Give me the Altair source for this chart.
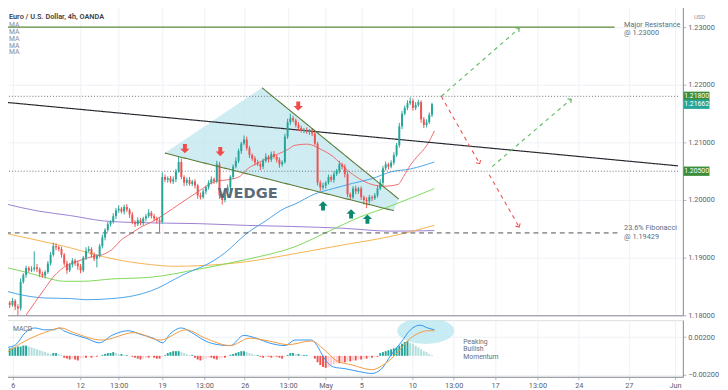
import altair as alt
import pandas as pd

# ---------------- data ----------------
# 4h candles (index 0 = first visible bar); closes in price, wicks in pips
closes = [1.1822, 1.1818, 1.1825, 1.1815, 1.1812, 1.1858, 1.1870, 1.1882, 1.1878, 1.1880,
          1.1883, 1.1880, 1.1872, 1.1869, 1.1875, 1.1890, 1.1905, 1.1920, 1.1918, 1.1915,
          1.1905, 1.1890, 1.1878, 1.1888, 1.1895, 1.1890, 1.1885, 1.1878, 1.1900, 1.1912,
          1.1915, 1.1905, 1.1898, 1.1903, 1.1920, 1.1935, 1.1948, 1.1958, 1.1962, 1.1972,
          1.1982, 1.1985, 1.1980, 1.1988, 1.1983, 1.1975, 1.1962, 1.1958, 1.1965, 1.1960,
          1.1968, 1.1972, 1.1978, 1.1972, 1.1968, 1.1965, 1.1962, 1.2040, 1.2035, 1.2038,
          1.2032, 1.2036, 1.2050, 1.2066, 1.2040, 1.2030, 1.2035, 1.2028, 1.2032, 1.2025,
          1.2008, 1.2005, 1.2015, 1.2022, 1.2030, 1.2036, 1.2033, 1.2062, 1.2008, 1.2000,
          1.2015, 1.2022, 1.2040, 1.2058, 1.2068, 1.2085, 1.2098, 1.2105, 1.2090, 1.2078,
          1.2072, 1.2065, 1.2062, 1.2058, 1.2068, 1.2075, 1.2070, 1.2080, 1.2075, 1.2070,
          1.2062, 1.2066, 1.2110, 1.2135, 1.2142, 1.2138, 1.2130, 1.2125, 1.2120, 1.2122,
          1.2118, 1.2120, 1.2115, 1.2098, 1.2030, 1.2022, 1.2025, 1.2030, 1.2040, 1.2035,
          1.2045, 1.2050, 1.2062, 1.2058, 1.2045, 1.2010, 1.2005, 1.2020, 1.2015, 1.2020,
          1.2005, 1.2000, 1.1998, 1.2005, 1.2003, 1.2008, 1.2020, 1.2030, 1.2055, 1.2062,
          1.2058, 1.2065, 1.2078, 1.2095, 1.2128, 1.2150, 1.2160, 1.2168, 1.2172, 1.2160,
          1.2165, 1.2170, 1.2140, 1.2130, 1.2135, 1.2148, 1.2166]
first_open = 1.1826
wick_up = [4, 3, 5, 3, 4, 6, 3, 4, 3, 5, 28, 6, 3, 4, 3, 4, 5, 6, 5, 3,
           4, 3, 5, 3, 4, 3, 5, 4, 3, 6, 5, 3, 4, 3, 4, 5, 3, 4, 3, 5,
           4, 6, 3, 4, 5, 3, 4, 3, 5, 4, 3, 4, 6, 3, 4, 3, 5, 8, 4, 3,
           4, 5, 4, 9, 6, 3, 4, 5, 3, 4, 3, 5, 4, 3, 4, 5, 3, 6, 4, 3,
           4, 5, 3, 4, 6, 4, 3, 7, 5, 4, 3, 4, 5, 3, 4, 6, 3, 4, 5, 3,
           4, 3, 5, 6, 8, 4, 3, 5, 4, 3, 4, 3, 5, 4, 3, 4, 5, 3, 4, 3,
           5, 4, 6, 3, 4, 5, 3, 4, 5, 3, 4, 3, 5, 4, 3, 4, 5, 6, 4, 5,
           3, 4, 5, 4, 6, 5, 4, 5, 6, 4, 5, 4, 3, 4, 5, 4, 3]
wick_dn = [4, 5, 3, 6, 12, 4, 3, 5, 4, 3, 4, 5, 6, 4, 5, 3, 4, 3, 5, 4,
           5, 4, 6, 3, 5, 4, 6, 5, 3, 4, 3, 5, 4, 15, 3, 4, 5, 3, 4, 3,
           5, 4, 3, 5, 4, 6, 4, 5, 3, 4, 4, 5, 3, 4, 5, 6, 18, 3, 4, 5,
           3, 4, 5, 3, 4, 6, 5, 3, 4, 5, 6, 4, 3, 5, 4, 3, 5, 4, 6, 8,
           4, 3, 5, 4, 3, 4, 5, 3, 4, 5, 4, 5, 3, 6, 4, 3, 5, 4, 3, 5,
           6, 4, 3, 4, 5, 3, 4, 5, 3, 4, 3, 5, 4, 3, 5, 6, 4, 5, 3, 4,
           5, 3, 4, 5, 6, 5, 4, 3, 5, 4, 5, 8, 12, 4, 5, 3, 4, 3, 5, 4,
           5, 3, 4, 3, 4, 5, 3, 4, 3, 5, 4, 3, 6, 5, 4, 3, 4]

# moving averages (sample points: bar index, price)
ma_red_i = [6.7, 13.8, 17.3, 20.8, 24.4, 27.9, 31.4, 35.0, 38.5, 42.0, 45.6, 49.1, 52.7, 58.0, 63.3,
            70.3, 76.3, 82.0, 85.5, 88.0, 91.5, 95.0, 99.6, 103.2, 105.7, 110.2, 115.2, 119.8, 124.4,
            129.3, 133.9, 138.5, 143.5, 145.6, 148.1, 150.5, 154.1, 156.9]
ma_red_p = [1.1798, 1.1846, 1.1868, 1.1883, 1.1891, 1.1897, 1.1902, 1.1905, 1.1914, 1.1931, 1.1942,
            1.1953, 1.1961, 1.1976, 1.1993, 1.2015, 1.2032, 1.2036, 1.2041, 1.2053, 1.2063, 1.2071,
            1.2080, 1.2088, 1.2095, 1.2097, 1.2088, 1.2075, 1.2054, 1.2037, 1.2027, 1.2024, 1.2027,
            1.2041, 1.2061, 1.2075, 1.2095, 1.2120]
ma_blue_i = [-0.35, 6.7, 13.8, 23.3, 29.0, 38.5, 46.6, 52.7, 65.0, 76.3, 79.9, 88.0, 95.0, 102.1,
             105.7, 112.7, 119.8, 126.9, 133.9, 141.0, 148.1, 156.9]
ma_blue_p = [1.1842, 1.1834, 1.1830, 1.1829, 1.1827, 1.1829, 1.1834, 1.1842, 1.1871, 1.1896, 1.1908,
             1.1942, 1.1964, 1.1986, 1.1993, 1.2010, 1.2020, 1.2029, 1.2037, 1.2049, 1.2054, 1.2066]
ma_green_i = [-0.35, 6.7, 13.8, 20.8, 27.9, 38.5, 52.7, 70.3, 88.0, 105.7, 117.3, 129.3, 141.0, 156.9]
ma_green_p = [1.1883, 1.1875, 1.1866, 1.1859, 1.1859, 1.1863, 1.1866, 1.1880, 1.1897, 1.1919, 1.1944,
              1.1970, 1.1990, 1.2020]
ma_orange_i = [-0.35, 11.3, 23.3, 35.0, 44.5, 52.7, 61.5, 70.3, 88.0, 105.7, 123.3, 141.0, 156.9]
ma_orange_p = [1.1942, 1.1930, 1.1917, 1.1902, 1.1893, 1.1888, 1.1885, 1.1886, 1.1893, 1.1907, 1.1922,
               1.1937, 1.1956]
ma_purple_i = [-0.35, 11.3, 23.3, 35.0, 46.6, 70.3, 88.0, 105.7, 123.3, 141.0, 156.9]
ma_purple_p = [1.1993, 1.1981, 1.1973, 1.1964, 1.1961, 1.1959, 1.1956, 1.1954, 1.1951, 1.1946, 1.1947]

# MACD (values in 1e-4)
macd_i = [0, 3.2, 6.7, 10.2, 13.8, 17.3, 19.1, 20.8, 24.4, 29.0, 33.9, 38.5, 44.5, 49.1, 53.7, 57.2,
          59.7, 64.0, 67.8, 72.8, 77.4, 82.0, 86.9, 91.5, 96.1, 102.1, 105.7, 111.7, 113.8, 116.3,
          119.8, 124.4, 129.3, 133.9, 137.5, 141.0, 144.5, 148.1, 151.6, 154.4, 156.9]
macd_v = [9, 12, 25, 30, 28, 28, 30, 27, 23, 19, 14, 22, 27, 23, 19, 14, 23, 30, 25, 16, 12, 11, 22,
          19, 14, 11, 17, 17, 11, -2, -12, -14, -17, -19, -14, 1, 14, 28, 33, 30, 28]
sig_i = [0, 6.7, 13.8, 19.8, 24.4, 35.0, 46.6, 56.2, 65.7, 72.8, 82.0, 89.0, 96.1, 103.2, 111.7,
         116.3, 120.8, 126.9, 133.9, 138.5, 143.5, 147.0, 151.6, 154.4, 156.9]
sig_v = [4, 16, 25, 30, 25, 17, 25, 17, 28, 19, 11, 19, 16, 12, 16, 7, -5, -10, -15, -9, 4, 16, 25,
         27, 27]
hist = [7, 8, 9, 9, 10, 10, 11, 11, 10, 9, 8, 7, 6, 5, 4, 3, 2, 3, 3, 2, 1,
        -2, -3, -4, -3, -4, -5, -3, -2, -2, -1, -2, -1, -1, 0, 1, 2, 3, 3, 4, 3,
        2, 2, 1, 1, 0, -1, -2, -3, -4, -3, -2, -2, -1, -2, -3, -3, -1, 1,
        3, 4, 5, 5, 5, 4, 3, 2, 1, 1, -2, -4, -5, -4, -3, -2, -2, -3, -4,
        -3, -2, -2, -1, 1, 2, 3, 4, 5, 5, 4, 3, 2, 1, 1, -1, -2, -1, -1, -2, -1, -1, -2, -3,
        -1, 1, 3, 3, 2, 2, 1, 1, 1, 0, 0, -3, -7, -10, -12, -13, -12, -10,
        -9, -8, -8, -7, -7, -6, -6, -5, -5, -4, -4, -3, -3, -2, -2, -1, -1,
        3, 4, 5, 6, 7, 8, 9, 11, 13, 15, 16, 14, 13, 11, 9, 7, 5, 4, 2, 1]

# time axis
tick_pos = [2.12, 26.86, 40.99, 56.89, 72.44, 87.28, 103.18, 116.96, 130.04, 148.76, 163.96,
            179.15, 194.70, 209.89, 228.27, 245.23]
tick_lab = ["6", "12", "13:00", "19", "13:00", "26", "13:00", "May", "5", "10", "13:00", "17",
            "13:00", "24", "27", "Jun"]
price_ticks = [1.18, 1.185, 1.19, 1.195, 1.20, 1.205, 1.21, 1.215, 1.22, 1.225, 1.23]

# levels / drawings
major_res = 1.23
fib_level = 1.19429
res_1218 = 1.218
sup_1205 = 1.205
last_price = 1.21662
trend_x = [-0.35, 246.3]
trend_p = [1.21695, 1.20593]
wedge_x = [57.95, 93.6, 142.0, 143.8]
wedge_top = [1.20814, 1.21949, 1.20086, 1.20017]
wedge_bot = [1.20814, 1.20390, 1.19814, 1.20017]
wedge_low_line = [(57.95, 1.20814), (142.0, 1.19814)]
wedge_up_line = [(93.6, 1.21949), (143.8, 1.20017)]
red_arrow_i = [65.3, 78.3, 106.9]
red_arrow_p = [1.2089, 1.2084, 1.2163]
green_arrow_i = [116.0, 126.3, 132.3]
green_arrow_p = [1.1990, 1.1976, 1.1967]
proj_x0 = [159.4, 159.4, 178.1, 177.0]
proj_y0 = [1.2180, 1.2180, 1.2058, 1.2044]
proj_x1 = [188.0, 173.5, 207.1, 188.0]
proj_y1 = [1.2298, 1.2063, 1.2175, 1.1953]
proj_kind = ["g", "r", "g", "r"]
proj_angle = [229, 329, 230, 330]

# ---------------- build tables ----------------
X0, X1 = -0.35, 246.3
W, H1, H2 = 698, 317, 58
FONT = "Roboto"
AXC = "#5d606b"
GRID = "#eef1f6"

opens = [first_open] + closes[:-1]
cdf = pd.DataFrame({
    "i": list(range(len(closes))),
    "open": opens,
    "close": closes,
    "high": [max(o, c) + u * 1e-4 for o, c, u in zip(opens, closes, wick_up)],
    "low": [min(o, c) - d * 1e-4 for o, c, d in zip(opens, closes, wick_dn)],
})
cdf["dir"] = ["up" if c >= o else "down" for o, c in zip(cdf["open"], cdf["close"])]

xs = alt.Scale(domain=[X0, X1], nice=False, zero=False)
ys = alt.Scale(domain=[1.18, 1.23373], nice=False, zero=False)
cscale = alt.Scale(domain=["up", "down"], range=["#26a69a", "#ef5350"])

x_price = alt.X("i:Q", scale=xs, axis=alt.Axis(values=tick_pos, labels=False, ticks=False,
                                                domain=True, domainColor="#8a8d96", grid=True,
                                                gridColor=GRID, title=None))
y_price_axis = alt.Axis(values=price_ticks, format=".5f", orient="right", title=None,
                        labelFontSize=7.5, labelColor=AXC, tickSize=3, tickColor="#b2b5be",
                        domain=True, domainColor="#8a8d96", grid=True, gridColor=GRID,
                        labelFont=FONT)

base = alt.Chart(cdf)
grid_layer = base.mark_point(opacity=0).encode(
    x=x_price, y=alt.Y("close:Q", scale=ys, axis=y_price_axis))

# wedge fill
wdf = pd.DataFrame({"i": wedge_x, "top": wedge_top, "bot": wedge_bot})
wedge_fill = alt.Chart(wdf).mark_area(color="#bfe6ee", opacity=0.75).encode(
    x=alt.X("i:Q", scale=xs), y=alt.Y("top:Q", scale=ys), y2="bot:Q")

# moving averages
def ma_line(ii, pp, color):
    d = pd.DataFrame({"i": ii, "p": pp})
    return alt.Chart(d).mark_line(strokeWidth=1, interpolate="monotone", clip=True,
                                  color=color).encode(
        x=alt.X("i:Q", scale=xs), y=alt.Y("p:Q", scale=ys))

ma_layers = [ma_line(ma_purple_i, ma_purple_p, "#9a7fd1"),
             ma_line(ma_orange_i, ma_orange_p, "#f7b24d"),
             ma_line(ma_green_i, ma_green_p, "#7ed957"),
             ma_line(ma_blue_i, ma_blue_p, "#4aa3e8"),
             ma_line(ma_red_i, ma_red_p, "#ef6c6c")]

# horizontal levels
def hline(level, x0, x1, color, dash, width=1.0):
    d = pd.DataFrame({"a": [x0], "b": [x1], "p": [level]})
    return alt.Chart(d).mark_rule(color=color, strokeDash=dash, strokeWidth=width).encode(
        x=alt.X("a:Q", scale=xs), x2="b:Q", y=alt.Y("p:Q", scale=ys))

res_line = hline(major_res, X0, 223.0, "#5f8a3c", [1, 0], 1.1)
fib_line = hline(fib_level, X0, 224.4, "#4a4d55", [5, 4], 1.0)
dot1 = hline(res_1218, X0, X1, "#6b6e76", [1, 2], 1.0)
dot2 = hline(sup_1205, X0, X1, "#6b6e76", [1, 2], 1.0)

def seg_chart(x0, y0, x1, y1, color, width=1.0, dash=(1, 0)):
    d = pd.DataFrame({"a": x0, "b": x1, "p": y0, "q": y1})
    return alt.Chart(d).mark_rule(color=color, strokeWidth=width, strokeDash=list(dash)).encode(
        x=alt.X("a:Q", scale=xs), x2="b:Q", y=alt.Y("p:Q", scale=ys), y2="q:Q")

trend = seg_chart([trend_x[0]], [trend_p[0]], [trend_x[1]], [trend_p[1]], "#26282e", 1.2)
wl = seg_chart([wedge_low_line[0][0], wedge_up_line[0][0]], [wedge_low_line[0][1], wedge_up_line[0][1]],
               [wedge_low_line[1][0], wedge_up_line[1][0]], [wedge_low_line[1][1], wedge_up_line[1][1]],
               "#5a7a34", 1.1)

# candles
wicks = base.mark_rule(strokeWidth=1).encode(
    x=alt.X("i:Q", scale=xs), y=alt.Y("low:Q", scale=ys), y2="high:Q",
    color=alt.Color("dir:N", scale=cscale, legend=None))
bodies = base.mark_bar(width=2.0).encode(
    x=alt.X("i:Q", scale=xs), y=alt.Y("open:Q", scale=ys), y2="close:Q",
    color=alt.Color("dir:N", scale=cscale, legend=None))

# projection dashed arrows
pdf = pd.DataFrame({"a": proj_x0, "b": proj_x1, "p": proj_y0, "q": proj_y1,
                    "k": proj_kind, "ang": proj_angle})
proj_layers = []
for kind, col in [("g", "#5cb85c"), ("r", "#ef5350")]:
    sub = pdf[pdf["k"] == kind]
    proj_layers.append(alt.Chart(sub).mark_rule(strokeWidth=1.1, strokeDash=[4, 4], color=col).encode(
        x=alt.X("a:Q", scale=xs), x2="b:Q", y=alt.Y("p:Q", scale=ys), y2="q:Q"))
    proj_layers.append(alt.Chart(sub).mark_point(
        shape="M -1 -1 L 0 0 L 1 -1", filled=False, strokeWidth=1.1, size=30, opacity=1,
        color=col).encode(
        x=alt.X("b:Q", scale=xs), y=alt.Y("q:Q", scale=ys),
        angle=alt.Angle("ang:Q", scale=None)))

# block arrows
ARROW = "M -0.42 -1 L 0.42 -1 L 0.42 0 L 1 0 L 0 1 L -1 0 L -0.42 0 Z"
red_arr = alt.Chart(pd.DataFrame({"i": red_arrow_i, "p": red_arrow_p})).mark_point(
    shape=ARROW, filled=True, size=90, opacity=1, color="#ef4b4b").encode(
    x=alt.X("i:Q", scale=xs), y=alt.Y("p:Q", scale=ys))
green_arr = alt.Chart(pd.DataFrame({"i": green_arrow_i, "p": green_arrow_p})).mark_point(
    shape=ARROW, filled=True, size=90, opacity=1, color="#0b8a6f", angle=180).encode(
    x=alt.X("i:Q", scale=xs), y=alt.Y("p:Q", scale=ys))

# texts
wedge_txt = alt.Chart(pd.DataFrame({"i": [88.3], "p": [1.2012], "t": ["WEDGE"]})).mark_text(
    font="DejaVu Sans", fontSize=15, fontWeight="bold", color="#5d6b79").encode(
    x=alt.X("i:Q", scale=xs), y=alt.Y("p:Q", scale=ys), text="t:N")
lab_df = pd.DataFrame({"i": [226.5, 226.5, 226.5, 226.5],
                       "p": [1.2304, 1.2289, 1.1951, 1.1936],
                       "t": ["Major Resistance", "@ 1.23000", "23.6% Fibonacci", "@ 1.19429"]})
level_txt = alt.Chart(lab_df).mark_text(font=FONT, fontSize=7.5, align="left", color="#5e6e7d").encode(
    x=alt.X("i:Q", scale=xs), y=alt.Y("p:Q", scale=ys), text="t:N")

title_txt = alt.Chart(pd.DataFrame({"t": ["Euro / U.S. Dollar, 4h, OANDA"]})).mark_text(
    font=FONT, fontSize=7.5, fontWeight=600, align="left", color="#3b3f4a").encode(
    x=alt.value(8), y=alt.value(12), text="t:N")
ma_lab = alt.Chart(pd.DataFrame({"t": ["MA"] * 5, "y": [20, 27, 34, 41, 48]})).mark_text(
    font=FONT, fontSize=7, align="left", color="#8a8d96").encode(
    x=alt.value(8), y=alt.Y("y:Q", scale=None), text="t:N")

# axis price boxes
BOX = "M -1 -0.36 L 1 -0.36 L 1 0.36 L -1 0.36 Z"
def box_layer(levels, texts, col):
    d = pd.DataFrame({"p": levels, "t": texts})
    b = alt.Chart(d).mark_point(shape=BOX, filled=True, size=700, opacity=1, color=col).encode(
        x=alt.value(W + 14), y=alt.Y("p:Q", scale=ys))
    t = alt.Chart(d).mark_text(font=FONT, fontSize=7, color="white").encode(
        x=alt.value(W + 14), y=alt.Y("p:Q", scale=ys), text="t:N")
    return [b, t]

box_layers = box_layer([res_1218, sup_1205], ["1.21800", "1.20500"], "#3c8c3a") + \
    box_layer([last_price], ["1.21662"], "#26a69a")
usd_txt = alt.Chart(pd.DataFrame({"t": ["USD"]})).mark_text(
    font=FONT, fontSize=6, color="#8a8d96").encode(x=alt.value(W + 17), y=alt.value(12), text="t:N")

price = alt.layer(grid_layer, wedge_fill, *ma_layers, res_line, fib_line, dot1, dot2, trend,
                  wicks, bodies, wl, *proj_layers, red_arr, green_arr, wedge_txt, level_txt,
                  title_txt, ma_lab, *box_layers, usd_txt).properties(width=W, height=H1)

# ---------------- MACD panel ----------------
ms = alt.Scale(domain=[-0.00226, 0.00384], nice=False, zero=False)
hcol = []
for k, h in enumerate(hist):
    prev = hist[k - 1] if k > 0 else h
    if h >= 0:
        hcol.append("up_dark" if h >= prev else "up_light")
    else:
        hcol.append("dn_dark" if h <= prev else "dn_light")
hdf = pd.DataFrame({"i": list(range(len(hist))), "h": [v * 1e-4 for v in hist], "c": hcol,
                    "z": [0.0] * len(hist)})
label_expr = ("[" + ",".join("'%s'" % s for s in tick_lab) + "][indexof(["
              + ",".join(repr(v) for v in tick_pos) + "], datum.value)]")
x_macd = alt.X("i:Q", scale=xs, axis=alt.Axis(values=tick_pos, labelExpr=label_expr, title=None,
                                               labelFontSize=7.5, labelColor=AXC, labelFont=FONT,
                                               tickSize=3, tickColor="#b2b5be", domain=True,
                                               domainColor="#8a8d96", grid=True, gridColor=GRID,
                                               labelFlush=False, labelOverlap=False, labelPadding=2))
y_macd_axis = alt.Axis(values=[-0.002, 0.0, 0.002], format=".5f", orient="right", title=None,
                       labelFontSize=7.5, labelColor=AXC, labelFont=FONT, tickSize=3,
                       tickColor="#b2b5be", domain=True, domainColor="#8a8d96", grid=True,
                       gridColor=GRID)
hbars = alt.Chart(hdf).mark_bar(width=2.0).encode(
    x=x_macd, y=alt.Y("h:Q", scale=ms, axis=y_macd_axis), y2="z:Q",
    color=alt.Color("c:N", legend=None,
                    scale=alt.Scale(domain=["up_dark", "up_light", "dn_dark", "dn_light"],
                                    range=["#26a69a", "#b2dfdb", "#ef5350", "#ffcdd2"])))
ELL = "M -1 0 A 1 0.46 0 1 1 1 0 A 1 0.46 0 1 1 -1 0 Z"
ell = alt.Chart(pd.DataFrame({"i": [153.7], "v": [0.00269]})).mark_point(
    shape=ELL, filled=True, size=3400, color="#b5e6ef", opacity=0.75, clip=True).encode(
    x=alt.X("i:Q", scale=xs), y=alt.Y("v:Q", scale=ms))
macd_line = alt.Chart(pd.DataFrame({"i": macd_i, "v": [v * 1e-4 for v in macd_v]})).mark_line(
    strokeWidth=1, interpolate="monotone", clip=True, color="#2f96f0").encode(
    x=alt.X("i:Q", scale=xs), y=alt.Y("v:Q", scale=ms))
sig_line = alt.Chart(pd.DataFrame({"i": sig_i, "v": [v * 1e-4 for v in sig_v]})).mark_line(
    strokeWidth=1, interpolate="monotone", clip=True, color="#f59a3c").encode(
    x=alt.X("i:Q", scale=xs), y=alt.Y("v:Q", scale=ms))
pk = pd.DataFrame({"i": [167.5] * 3, "v": [0.00150, 0.00070, -0.00010],
                   "t": ["Peaking", "Bullish", "Momentum"]})
pk_txt = alt.Chart(pk).mark_text(font=FONT, fontSize=7, align="left", color="#6b6e76").encode(
    x=alt.X("i:Q", scale=xs), y=alt.Y("v:Q", scale=ms), text="t:N")
macd_lab = alt.Chart(pd.DataFrame({"t": ["MACD"]})).mark_text(
    font=FONT, fontSize=7, align="left", color="#6b6e76").encode(
    x=alt.value(12), y=alt.value(9), text="t:N")

macd = alt.layer(ell, hbars, macd_line, sig_line, pk_txt, macd_lab).properties(width=W, height=H2)

chart = alt.vconcat(price, macd, spacing=0).resolve_scale(color="independent").properties(
    padding={"left": -8, "top": -8, "right": 0, "bottom": 0}
).configure_view(stroke=None).configure(font=FONT)

chart.save("out.html", embed_options={"renderer": "svg", "actions": False})
